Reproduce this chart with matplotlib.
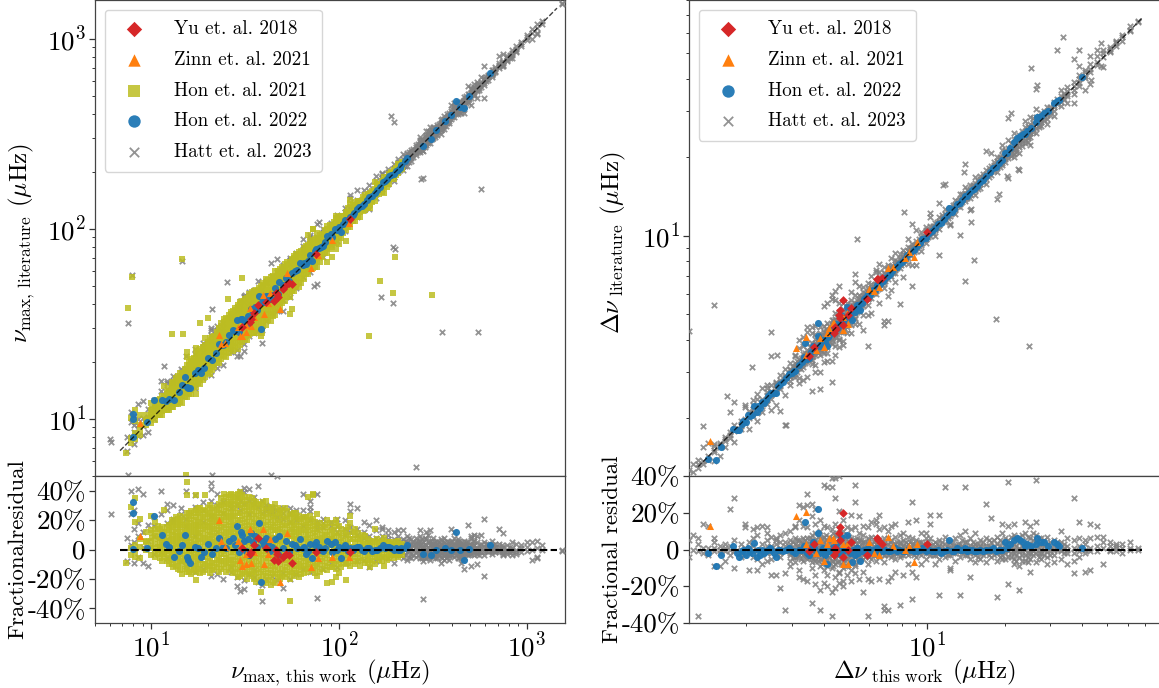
import matplotlib
matplotlib.use("Agg")
import matplotlib.pyplot as plt
from matplotlib.ticker import NullFormatter, FixedLocator, FixedFormatter

plt.rcParams['font.family'] = ['cmr10', 'Liberation Serif']
plt.rcParams['mathtext.fontset'] = 'cm'
plt.rcParams['axes.unicode_minus'] = False
plt.rcParams['axes.formatter.use_mathtext'] = True

# numax panel: (this work in uHz, [residuals in % at that value])
hon21_numax = [
    (7.3, [-9]), (7.8, [-4, 1, 29]), (8.2, [-5, -1, 3, 19, 35]), (8.7, [-6, 2, 7, 21]), (9.3, [0, 5, 12, 6]),
    (9.9, [-4, 2, 6, 13, 23]), (10.4, [-5, -1, 4, 9, 14, 19]), (11.1, [-6, 0, 3, 8, 14]), (11.7, [-5, -2, 3, 7, 12, 27]),
    (12.4, [-10, -6, -1, 4, 8, 13, 17]), (13.1, [-12, -7, -3, 1, 6, 10, 15, 19]), (13.8, [-13, -9, -4, 2, 5, 9, 14, 18, 21]),
    (14.6, [-17, -10, -6, -1, 3, 8, 12, 17, 20]), (15.4, [-15, -11, -7, -2, 2, 6, 11, 15, 19, 25, 37, 46]), (16.3, [-17, -13, -8, -4, 1, 5, 10, 14, 18, 23, 26]),
    (17.2, [-21, -15, -10, -5, 0, 4, 9, 13, 17, 22, 27, 37]), (18.2, [-16, -12, -7, -3, 2, 7, 11, 16, 20, 24, 28]), (19.4, [-14, -10, -5, -1, 4, 8, 13, 17, 22, 26, 37]),
    (20.5, [-16, -11, -6, -2, 3, 7, 12, 16, 21, 25, 30]), (21.6, [-13, -9, -4, 1, 5, 9, 14, 19, 23, 27, 22]), (23.0, [-15, -10, -6, 0, 4, 8, 13, 18, 22, 27, 31]),
    (24.3, [-12, -8, -3, 2, 6, 11, 15, 20, 24, 29, 33, 38]), (25.8, [-14, -9, -5, 1, 5, 10, 14, 19, 23, 28, 32, 37]), (27.2, [-16, -11, -7, -2, 3, 8, 12, 17, 22, 26, 31, 36]),
    (28.9, [-19, -13, -8, -3, 2, 6, 11, 15, 20, 25, 30, 34, 38]), (30.5, [-17, -12, -7, -2, 4, 8, 13, 18, 23, 28, 33, 37]), (32.3, [-20, -15, -10, -5, 0, 5, 10, 14, 19, 24, 29, 34]),
    (34.4, [-18, -14, -8, -3, 1, 6, 11, 16, 21, 26, 30, 35]), (36.1, [-22, -16, -11, -6, -1, 4, 9, 13, 18, 23, 28, 32]), (38.4, [-29, -21, -15, -10, -4, 1, 6, 11, 15, 20, 25, 30]),
    (40.7, [-23, -18, -13, -8, -3, 2, 7, 12, 17, 22, 27, 33]), (43.2, [-24, -19, -14, -9, -4, 1, 6, 10, 15, 20, 25, 29]), (45.6, [-23, -17, -12, -7, -2, 3, 8, 13, 18, 23, 31]),
    (48.5, [-20, -16, -10, -5, 0, 5, 9, 14, 19, 24, 27]), (51.2, [-19, -14, -9, -4, 1, 6, 11, 16, 21, 28]), (54.6, [-35, -20, -15, -10, -6, -1, 4, 9, 13, 18, 23]),
    (57.4, [-18, -13, -8, -3, 2, 7, 12, 17, 22, 25]), (61.0, [-19, -14, -10, -5, 0, 5, 10, 14, 19, 23]), (64.8, [-16, -11, -6, -1, 4, 8, 13, 18, 22]),
    (68.3, [-15, -10, -5, 0, 5, 10, 15, 20, 36]), (72.5, [-14, -9, -4, 1, 6, 11, 16, 21, 37, 38]), (76.6, [-18, -12, -8, -3, 2, 7, 12, 17, 24]),
    (81.4, [-13, -8, -3, 2, 6, 10, 15]), (86.7, [-23, -14, -9, -4, 1, 5, 10, 15, 20]), (91.2, [-22, -12, -7, -2, 3, 8, 13]),
    (96.8, [-19, -13, -8, -3, 1, 6, 11, 18, 20]), (102, [-12, -7, -2, 3, 8, 14]), (109, [-21, -10, -6, -1, 4, 9, 13]),
    (115, [-11, -6, -2, 2, 7, 18, 23]), (122, [-10, -5, 0, 5, 10, 14]), (130, [-11, -6, -1, 4, 8]),
    (138, [-9, -4, 0, 4, 9]), (146, [-12, -7, -3, 2, 6]), (155, [-10, -5, 0, 5, 14]),
    (164, [-7, -3, 1, 5]), (174, [-11, -5, 0, 4, 8]), (184, [-6, -2, 2, 5]),
    (195, [-6, -3, 1, 4]), (206, [-5, -1, 3, 6]), (216, [-4, -1, 2, 4]),
]
# second pass over the same cloud, between the columns above
hon21_numax_fill = [
    (10.1, [1, 8, 11]), (10.8, [-3, 2, 7, 12, 16]), (11.4, [-8, -3, 1, 5, 10, 15]), (12.1, [-8, -3, 2, 6, 11, 15]), (12.8, [-10, -5, 0, 3, 7, 12, 16, 20]),
    (13.5, [-11, -5, -1, 4, 8, 12, 17, 22]), (14.2, [-14, -8, -3, 1, 6, 10, 15, 19, 23]), (15.0, [-13, -8, -4, 1, 5, 9, 13, 17, 22]), (15.9, [-15, -10, -6, -1, 3, 8, 12, 16, 21, 25]),
    (16.8, [-14, -11, -6, -2, 3, 7, 12, 16, 20, 25]), (17.7, [-13, -8, -3, 2, 6, 11, 15, 19, 25, 28]), (18.8, [-15, -10, -5, 0, 5, 9, 14, 18, 22, 27]), (19.9, [-12, -8, -3, 1, 6, 10, 15, 19, 24, 28]),
    (21.0, [-14, -9, -4, 1, 5, 10, 14, 18, 23, 28]), (22.3, [-12, -7, -2, 2, 6, 11, 16, 20, 25, 29]), (23.6, [-13, -8, -3, 2, 6, 10, 15, 20, 25, 30, 35]), (25.0, [-15, -10, -6, -1, 3, 8, 12, 17, 22, 26, 31, 36]),
    (26.5, [-12, -7, -2, 3, 7, 12, 16, 21, 25, 30, 34, 38]), (28.0, [-15, -10, -5, 0, 4, 9, 14, 18, 23, 28, 33, 37]), (29.7, [-18, -14, -9, -5, 1, 5, 10, 15, 20, 25, 30, 35, 39]), (31.4, [-16, -11, -6, -1, 3, 7, 11, 16, 21, 26, 31, 36]),
    (33.3, [-17, -12, -7, -2, 3, 8, 12, 17, 22, 27, 31, 36]), (35.2, [-20, -15, -10, -5, 0, 5, 9, 14, 19, 24, 29, 33]), (37.3, [-19, -13, -8, -3, 2, 7, 12, 17, 21, 26, 31]), (39.5, [-22, -17, -12, -6, -1, 3, 8, 13, 18, 23, 28, 32]),
    (41.9, [-21, -16, -11, -6, -1, 4, 9, 14, 19, 24, 29]), (44.4, [-22, -16, -11, -6, -1, 4, 8, 13, 17, 22, 27]), (47.0, [-19, -14, -8, -3, 1, 6, 11, 15, 20, 25, 28]), (49.8, [-18, -13, -7, -2, 3, 7, 12, 17, 22, 26]),
    (52.9, [-17, -12, -7, -2, 3, 8, 12, 17, 22, 26]), (56.0, [-16, -11, -6, -1, 4, 9, 14, 19, 24]), (59.2, [-16, -11, -7, -2, 3, 8, 12, 16, 21, 25]), (62.8, [-17, -12, -8, -3, 2, 7, 12, 16, 21]),
    (66.5, [-13, -8, -3, 2, 7, 12, 17, 22]), (70.4, [-12, -7, -2, 3, 8, 13, 18, 23]), (74.5, [-16, -11, -6, -1, 4, 9, 14, 19]), (79.0, [-15, -10, -5, 0, 4, 8, 13, 18]),
    (84.0, [-11, -6, -1, 4, 8, 12, 17]), (89.0, [-12, -7, -2, 3, 7, 12, 18]), (94.0, [-10, -5, -1, 4, 9, 15]), (99.5, [-16, -10, -5, 0, 5, 10, 16]),
    (105, [-9, -4, 1, 6, 11]), (112, [-9, -4, 0, 5, 10, 15]), (119, [-8, -3, 2, 7, 12]), (126, [-8, -3, 2, 7, 11]),
    (134, [-7, -2, 2, 6, 10]), (142, [-9, -5, -1, 3, 7]), (150, [-8, -3, 2, 6]), (160, [-5, -1, 3, 7]),
    (169, [-8, -4, 2, 6]), (179, [-7, -3, 1, 5]), (190, [-4, 0, 3, 5]), (200, [-4, 0, 3, 5]), (211, [-3, 1, 4]),
]
hon21_numax_out_x = [7.9, 14.6, 7.5, 30.3, 25.5, 19.9, 18.1, 12.8, 14.8, 199, 165, 194, 145, 56, 38.7, 314, 15.2]
hon21_numax_out_y = [56, 69.7, 38.5, 55.3, 42.5, 33.8, 31.8, 27.9, 27.9, 71, 52.8, 46, 27.2, 37.7, 28.2, 45, 5.05]

hatt_numax = [
    (6.1, [24]), (7.4, [-8, 8]), (7.8, [24, 40, 3]), (8.1, [14, 5, -9, 27]), (8.5, [41, 18, 9, -5]), (9.0, [38, 12, -9, 2]), (9.6, [-11, 6, 17]),
    (10.3, [9, 16, -3, 22]), (11.3, [40, 12, -2, 24]), (12.1, [31, 18, 7, -6, 27]), (13.0, [30, 19, 21, -3]), (14.3, [24, 8, -8, 28]),
    (15.3, [40, 16, -11, 21]), (17.0, [37, 29, 9, -15]), (18.9, [32, 19, -13, 27]), (20.8, [45, 41, 33, -18, 23]), (22.3, [38, 30, 12, -17]),
    (24.1, [32, 25, -20, 7]), (26.5, [31, 28, -15, -12]), (28.4, [36, 30, -25, -19, 12]), (29.8, [-28, 40, 33, 27]), (31.3, [-27, 39, 42, 31, -21]),
    (33.0, [41, 24, -17, 33]), (35.0, [33, 36, -19, -14, 31]), (37.0, [43, 29, 18, -22]), (38.7, [-35, -24, 25, 33]), (41.0, [26, 28, -20, 30]),
    (44.0, [28, 26, 24, -18, 29]), (46.5, [50, 27, 22, -21]), (50.2, [-26, 25, 21, -16, 28]), (55.0, [24, 19, -20, 28, 25]), (59.0, [20, 27, -17, 23]),
    (64.0, [27, 22, 16, 38, -13]), (70.0, [29, 26, 20, -15, 33]), (76.4, [-33, 19, 17, 38, 14]), (82.0, [21, 18, 15, -13]), (90.0, [16, 19, -9, 8]),
    (98.0, [16, 12, -12, 21]), (107, [20, 14, -9, 10]), (115, [31, 15, 12, 26]), (125, [14, 10, -8, 28]), (135, [19, 8, 12, -7]),
    (145, [17, 9, -12, 5]), (158, [20, 13, 8, -8]), (170, [15, 9, 6, 14, -5]), (182, [13, 10, 7, -6]), (195, [-9, 12, 7, 3, -4]),
    (205, [13, 9, 6, 3, -3]), (218, [13, 7, 3, -2, -6]), (230, [9, 5, 2, -2, -7]), (243, [7, 4, 1, -3, -6]), (256, [8, 5, 2, -2, -5, 3]),
    (270, [9, 6, 3, 0, -3, -6, 13]), (280, [-34, 5, 2, -1, -4, -8]), (292, [12, 7, 3, 0, -3, -6]), (305, [13, 6, 3, -1, -4, -7]), (318, [8, 4, 1, -3, -5, 3]),
    (332, [6, 2, -1, -3, -6, 4]), (348, [7, 4, 1, -2, -5, -9, 3]), (362, [8, 5, 2, -1, -4, -7]), (378, [6, 3, 0, -3, -5, 2]), (395, [14, 5, 2, -1, -4]),
    (410, [12, 8, 4, 1, -2, -5]), (428, [5, 3, 0, -3, -6, 7]), (445, [5, 2, -1, -3, 3, -5, -9]), (465, [6, 3, 0, -2, -5, -13]), (485, [17, 5, 1, -2, -4]),
    (505, [8, 9, 3, 0, -3, -11]), (525, [10, 6, 3, 0, -2, -4]), (545, [9, 5, 1, -1, -3, -10]), (570, [10, 4, 1, -2]), (592, [21, 5, 2, -1, -18, -4]),
    (620, [3, 1, -2, 4]), (650, [6, 2, 0, -1, -3]), (680, [4, 2, 0, -2]), (715, [14, 2, 0, -2, 4]), (750, [11, 2, -1, -3, -4]),
    (790, [3, 0, -3, -2]), (830, [5, 1, -1, -4]), (880, [4, 0, -2, -3]), (930, [3, 1, -2]), (1000, [5, 2, -1]),
    (1070, [5, 0, -7]), (1130, [6, 1, -6, -5]), (1200, [3, 0]), (1540, [0, -1]),
]
hatt_numax_fill = [
    (212, [5, 1, -1, -4]), (224, [6, 3, 0, -4]), (236, [4, 1, -1, -5, 8]), (249, [5, 3, 0, -4]), (263, [6, 4, 1, -1, -4]),
    (275, [7, 3, 1, -2, -5, -6]), (286, [8, 4, 1, -2, -3, -6]), (298, [5, 2, -1, -2, -5, 10]), (311, [6, 4, 1, -2, -4]), (325, [5, 3, 0, -2, -4, -6]),
    (340, [5, 2, 0, -2, -4]), (355, [6, 3, 0, -3, -6]), (370, [4, 2, -1, -3, -6]), (386, [5, 3, 1, -2, -4, -7]), (402, [6, 3, 0, -2, -4]),
    (418, [5, 3, 1, -2, -4]), (436, [6, 4, 1, -1, -3, -6]), (455, [4, 2, 0, -2, -4, -7]), (475, [5, 3, 1, -1, -3]), (495, [4, 2, 0, -3]),
    (515, [6, 3, 1, -2]), (560, [3, 1, -2, -4]), (605, [4, 2, -1]), (665, [3, 1, -1]), (735, [3, 1, -2]), (810, [2, 0, -2]),
]
hatt_numax_out_x = [7.9, 14.6, 7.5, 194, 199, 167, 194, 25.2, 43.3, 73.5, 78, 11.6, 6.03, 190, 197, 274, 568, 355, 547, 258, 7.5, 20.9, 43.3, 31.4, 21]
hatt_numax_out_y = [57, 68, 31.8, 80, 78, 43.5, 40.5, 52.7, 66.3, 49.8, 109, 18.9, 7.8, 391, 363, 183, 162, 28.5, 28.5, 5.6, 5.05, 5.05, 5.05, 45, 38]

hon22_numax_x = [8.0, 8.0, 8.0, 9.5, 10.3, 11.4, 12.0, 12.4, 13.2, 14.0, 14.6, 15.0, 15.4, 15.6, 16.0, 17.0, 17.8, 18.4, 19.0, 20.0, 21.0, 22.0,
                 23.0, 24.0, 25.0, 26.0, 27.2, 28.0, 28.7, 29.3, 30.0, 30.4, 31.0, 31.8, 32.5, 33.0, 34.0, 34.8, 35.5, 36.5, 37.4, 38.2, 39.0, 39.8, 41.0,
                 42.0, 43.0, 44.0, 45.5, 47.0, 48.0, 50.0, 52.0, 54.0, 56.0, 58.0, 60.0, 62.0, 65.0, 67.0, 70.0, 72.0, 75.0, 78.0, 82.0, 86.0, 90.0, 95.0,
                 100, 102, 108, 114, 120, 128, 136, 145, 155, 165, 172, 180, 190, 205, 215, 230, 280, 310, 330, 365, 395, 418, 440, 465, 495, 640,
                 64, 68, 74, 80, 84, 92, 98, 105, 111, 118, 124, 132, 140, 150, 160, 176, 185, 195, 200, 210, 225]
hon22_numax_res = [32, 25, 0.5, 1, 22.5, 10, 4, 2, -5, -1, 3, 10, -5, -7, -9, 2, 1, -5, -2, 4, -3, 1,
                   8, 2, 1, 6, 8, 3, 16, -2, 12, 10, 6, -1, 7, -4, 11, 5, 9, 2, 18, -22, 6, 3, 8,
                   5, -1, 2, 7, -3, 9, 1, 6, -2, 4, 3, 1, 7, 2, -3, 4, -6, 5, 2, -1, 6, 4, 5,
                   2, -6, 3, 1, 1, 2, -1, 1, 0, 1, 3, 2, 1, 0, 1, 3, -3, -4, 0, 1, 0, 12, 0, -7, 0.5, 3,
                   1, -1, 3, 0, 1, -2, 0, 1, -1, 0, 2, 0, 1, -1, 0, 1, 2, 0, 1, 0, 1]

zinn_numax_x = [23, 8.7, 23.4, 24.7, 28.8, 33.7, 29.5, 30.5, 32, 33.8, 39.4, 39.8, 43, 48.6, 53, 70.5, 77, 92, 113, 32, 35, 30, 42]
zinn_numax_res = [20, 9.5, 6, 2, 6, 14, -7, -11, -10, -9, 14, -10, 7, -22, 11, -12, -6, -5, -5, -3, -2, 3, -3]

yu_numax_x = [37, 30.2, 34, 35.2, 41, 46, 45, 47.5, 52, 54, 56, 75, 115, 50.5, 46.5, 33.5]
yu_numax_res = [7.5, 1, -2, 3, 1, 0, -7, -8, -3, -4, -9, -2, -2, -5, -3, -3]

# delta nu panel
hatt_dnu = [
    (1.2, [5, -4]), (1.24, [8, 0]), (1.3, [-36, 3, -1, 6]), (1.36, [1, -2, 14]), (1.42, [-2, 1, 13, -3]), (1.5, [1, -1, 4, 6, -9]), (1.58, [-2, 0, 2, -9]),
    (1.65, [3, -1, -6, 1]), (1.73, [22, 2, 0, -3]), (1.8, [28, 5, -1, -10]), (1.9, [3, 0, -2, -4]), (1.97, [14, 12, 1, -3]), (2.05, [4, 1, -2, -11]),
    (2.12, [11, 6, 2, -1, -4]), (2.2, [12, 8, 0, -5, -11]), (2.3, [13, 3, 0, -3, -8]), (2.4, [9, 5, 2, -2, -6, 12]), (2.5, [2, 1, -2, -5, -14, 7]),
    (2.6, [-14, 5, 0, -3, 3, 6]), (2.7, [-21, 8, 4, 1, -2, -4]), (2.82, [9, 4, 2, -1, -13, -33]), (2.95, [10, 5, 1, -2, -6, -9]), (3.08, [12, 6, 3, 0, -4, -7, 13]),
    (3.2, [24, 16, 5, 2, -1, -3, -15, -11]), (3.33, [13, 6, 3, 0, -3, -6, -16, 23]), (3.45, [30, 24, 12, 6, 3, 1, -2, -5, -17]), (3.58, [25, 18, 8, 4, 1, -1, -4, -7, -29, -10]),
    (3.7, [22, 14, 9, 5, 2, 0, -3, -6, -19, -14]), (3.85, [16, 10, 6, 3, 1, -2, -5, -9, -22, -33]), (4.0, [35, 13, 7, 4, 1, -1, -4, -7, -11, -18]), (4.12, [34, 12, 5, 2, 0, -3, -5, -9, -20, -14]),
    (4.28, [39, 34, 11, 6, 3, 1, -2, -6, -10, -23, -36]), (4.43, [39, 28, 14, 8, 4, 1, -2, -5, -8, -21, -15]), (4.58, [40, 21, 11, 6, 3, 0, -3, -6, -12, -18, -13]), (4.75, [16, 10, 5, 2, -1, -4, -7, -10, -17, -20]),
    (4.92, [12, 8, 4, 1, -2, -5, -9, -14]), (5.1, [19, 11, 6, 3, 0, -3, -6, -11, -17]), (5.28, [35, 26, 12, 5, 2, -1, -4, -8, -13, -9]), (5.45, [18, 9, 5, 2, -1, -3, -6, -16]),
    (5.65, [13, 8, 4, 1, -2, -5, -12, -23]), (5.9, [12, 6, 3, 0, -3, -36, -8, -16]), (6.1, [15, 7, 3, 1, -2, -5, -17]), (6.35, [16, 14, 6, 3, 0, -3, -6]),
    (6.55, [19, 11, 5, 2, -1, -4, -16]), (6.8, [12, 6, 2, -1, -3, -7, -31, -33]), (7.05, [10, 6, 3, 0, -3, -17, -33]), (7.3, [13, 5, 2, -1, -4, -15]),
    (7.55, [14, 7, 3, 0, -2, -5, -12]), (7.85, [8, 4, 1, -1, -4, -30]), (8.1, [9, 5, 2, -1, -3, -14]), (8.45, [15, 7, 3, 0, -3, -8]),
    (8.8, [26, 6, 3, 0, -2, -27, -12]), (9.1, [16, 5, 2, -1, -4, -15]), (9.5, [9, 4, 1, -1, -3, -8]), (9.9, [6, 9, 3, 0, -2, -5]),
    (10.3, [19, 14, 6, 2, -1, -3]), (10.8, [4, 1, -1, -3, -8]), (11.2, [19, 5, 2, 0, -2, -5, -25]), (11.8, [34, 7, 3, 0, -2, -4]),
    (12.3, [4, 1, -1, -3, -11, -10]), (12.9, [6, 2, 0, -2, -6]), (13.4, [8, 3, 1, -1, -4, -25]), (14.0, [34, 10, 4, 1, -1, -3]),
    (14.7, [6, 2, 0, -2, -15, -5]), (15.4, [9, 3, 1, -1, -3, -7]), (16.1, [5, 2, 0, -2, -5]), (16.9, [25, 6, 2, 0, -2, -7]),
    (17.8, [17, 4, 1, -1, -4]), (18.7, [7, 3, 0, -2, -6, -26]), (19.6, [14, 9, 4, 1, -1, -3, -5]), (20.6, [37, 13, 5, 2, -1, -4, -19]),
    (21.7, [14, 8, 3, 0, -2, -5, -8]), (22.8, [7, 4, 1, -1, -4, -9, -22]), (24.0, [15, 9, 2, 0, -3, -6]), (25.2, [13, 6, 3, 0, -2, -5, -12]),
    (26.5, [15, 8, 4, 1, -2, -7, 38]), (27.8, [6, 3, 0, -2, -5]), (29.2, [7, 3, 1, -1, -4, -8]), (31.0, [5, 2, 0, -3, -7]),
    (33.0, [10, 4, 1, -1, -5]), (35.0, [6, 2, 0, -2, -8]), (37.0, [28, 5, 1, -2, -13, -6]), (39.0, [15, 6, 2, -1, -4]),
    (41.0, [3, 0, -2, -12, 5]), (43.0, [14, 6, 1, -1, -11]), (45.5, [13, 7, 2, -1]), (48.0, [-8, 4, 7, 1]),
    (51.0, [4, 2, 0, -1]), (54.0, [3, 1, -1, 2]), (57.0, [3, 1, -2]), (61.0, [4, 1, 0]), (66.0, [1, 0]),
]
# second pass along the dense part of the band
hatt_dnu_fill = [
    (2.96, [3, 0, -3]), (3.02, [4, 1, -2, -4]), (3.14, [5, 2, -1, -4]), (3.26, [4, 1, -2, -5]), (3.39, [5, 3, 0, -2, -4]), (3.52, [6, 3, 1, -2, -4]), (3.64, [5, 2, 0, -3, -5]),
    (3.78, [7, 4, 1, -2, -4, -6]), (3.92, [6, 3, 0, -2, -5, -8]), (4.06, [8, 5, 2, -1, -3, -6]), (4.2, [7, 4, 1, -1, -4, -7]), (4.35, [9, 5, 2, 0, -3, -6, -9]), (4.5, [8, 4, 2, -1, -3, -7]),
    (4.66, [7, 4, 1, -2, -5, -8]), (4.83, [6, 3, 0, -3, -6, -9]), (5.0, [7, 4, 2, -1, -4, -7]), (5.18, [5, 3, 1, -2, -5]), (5.36, [6, 3, 0, -3, -5]), (5.55, [5, 3, 1, -1, -4]),
    (5.78, [4, 2, 0, -2, -4]), (6.0, [5, 2, 0, -2, -4]), (6.22, [4, 2, -1, -3]), (6.45, [4, 1, -1, -3]), (6.68, [4, 2, 0, -2]), (6.92, [4, 2, -1, -3]),
    (7.18, [4, 1, -1, -2]), (7.42, [3, 1, -2, -3]), (7.7, [4, 2, 0, -2]), (7.98, [3, 1, -1, -3]), (8.28, [4, 2, 0, -2]), (8.62, [4, 1, -1, -2]),
    (8.95, [3, 1, -1, -3]), (9.3, [4, 2, 0, -2]), (9.7, [3, 1, -1]), (10.1, [4, 2, 0, -2]), (10.55, [3, 1, -1, -3]), (11.0, [3, 1, -2]),
    (11.5, [4, 2, 0, -2]), (12.05, [3, 1, -1, -3]), (12.6, [4, 2, 0, -2]), (13.15, [3, 1, -1]), (13.7, [5, 2, 0, -2]), (14.35, [4, 1, -1, -3]),
    (15.05, [4, 2, 0, -2]), (15.75, [3, 1, -1, -4]), (16.5, [4, 2, 0, -3]), (17.35, [5, 2, -1, -3]), (18.25, [5, 2, 0, -3]), (19.15, [5, 2, 0, -2, -4]),
    (20.1, [6, 3, 0, -2, -5]), (21.1, [7, 3, 1, -2, -4]), (22.2, [6, 2, 0, -3, -6]), (23.4, [8, 5, 2, -1, -3, -6]), (24.6, [7, 3, 1, -2, -4, -7]), (25.8, [9, 5, 2, -1, -3]),
    (27.1, [6, 3, 1, -2, -4]), (28.5, [5, 2, 0, -3]), (30.0, [4, 1, -1, -3]), (32.0, [4, 2, 0]), (34.0, [3, 1, -2]),
]
hatt_dnu_out_x = [1.5, 1.2, 2.5, 2.5, 2.63, 2.11, 1.68, 1.36, 2.85, 5.37, 8.15, 15.3, 14.1, 18.5, 24.8, 33.8, 32, 39, 25.4, 26.8, 21.1, 13.9, 11.6, 19, 22.6, 20.5, 14.8, 14.8, 47.4, 43.4, 47.4]
hatt_dnu_out_y = [5.43, 4.3, 4.28, 3.45, 3.5, 3.13, 2.43, 1.86, 1.89, 9.7, 12.3, 8.1, 6.7, 4.8, 3.77, 57.8, 51.5, 51.5, 43.9, 37.8, 29.4, 17.5, 15.7, 14.4, 18, 16.9, 11.3, 12.7, 44.7, 39.5, 54.8]

hon22_dnu_x = [1.42, 1.52, 1.6, 1.78, 1.84, 1.88, 1.95, 2.0, 2.06, 2.15, 2.2, 2.26, 2.3, 2.34, 2.42, 2.5, 2.6, 2.7, 2.85, 3.0, 3.1, 3.2, 3.35, 3.38,
               3.5, 3.55, 3.62, 3.7, 3.78, 3.8, 3.86, 3.95, 4.05, 4.12, 4.2, 4.28, 4.35, 4.45, 4.55, 4.65, 4.72, 4.8, 4.92, 5.05, 5.12, 5.25, 5.35, 5.5,
               5.7, 5.9, 6.0, 6.2, 6.4, 6.6, 6.9, 7.2, 7.5, 7.8, 8.2, 8.6, 9.2, 9.6, 10.2, 10.8, 11.4, 12.0, 12.2, 12.8, 13.4, 14.0, 14.6, 15.2, 16.0, 17.0,
               18.0, 19.0, 20.0, 21.0, 21.8, 22.3, 23.0, 23.6, 24.5, 25.3, 26.4, 26.8, 27.6, 28.4, 31.0, 32.0, 32.5, 40.0,
               1.92, 2.03, 2.1, 2.22, 2.38, 2.46, 2.55, 2.65, 2.77, 2.92, 3.05, 3.28, 3.45, 3.67, 3.9, 4.0, 4.15, 4.38, 4.5, 4.6, 4.85, 5.0, 5.2, 5.42,
               5.6, 5.8, 6.1, 6.3, 6.5, 6.75, 7.05, 7.35, 7.65, 8.0, 8.4, 8.9, 9.4, 9.9, 10.5, 11.1, 11.7, 12.5, 13.1, 13.7, 14.3, 14.9, 15.6, 16.5, 17.5,
               18.5, 19.5, 20.5, 24.0, 29.5]
hon22_dnu_res = [-2, -9, -3, 2, -2, -4, 0, -3, -1, 3.5, -4, -3, 0, -2, 0, 0, -4, 0, 0, -1, -2, 0, 2, 15,
                 -3, 1, 4, 0, 22, 9, -2, 1, -3, -8, -1, 1, 0, 3, -2, 7, -1, 0, 8, -2, -7, -3, 1, -6,
                 0, 1, -2, 0, 1, -1, 0, -1, 1, 0, -1, 0, -1, 1, 0, -1, -2, 0, 5, -1, 0, 1, 0, -1, 0, 0,
                 1, 0, 4, 3, 5, 6, 5, 4, 3, 2, 3, 6, 4, 4, 4, 3, 2, 1,
                 -1, 1, -2, 0, -1, 1, -2, 0, -1, 1, -1, 0, -2, 1, -1, 0, -1, 1, -2, 0, 1, -1, 0, -2,
                 -1, 0, -1, -2, 0, -1, -1, 0, -1, -1, 0, -1, 0, -1, -1, 0, -1, -1, 1, 0, -1, 0, -1, -1, 0,
                 -1, 0, 1, 2, 2]

zinn_dnu_x = [1.45, 3.12, 3.4, 3.4, 3.87, 4.17, 4.39, 4.1, 4.75, 4.92, 4.0, 4.75, 4.97, 6.0, 6.25, 6.53, 7.05, 7.43, 8.24, 8.5, 9.2, 8.93, 3.73, 4.35]
zinn_dnu_res = [13, 18.5, 20.5, 3, 5, 6, 5, 3, 3, 3, -6, -8, -8, 4, -2, -3, 7, 2, 0, 2, 3, -7, -2, 6]

yu_dnu_x = [4.72, 4.63, 4.57, 4.6, 5.07, 3.65, 3.5, 4.41, 4.45, 4.38, 4.72, 5.88, 6.42, 6.48, 6.7, 10, 4.95]
yu_dnu_res = [20, 12, 9, 5, 4, 3, -1, 1, -1, -3, -4, -3, 6, 5, 3, 3, 0]

numax_lim = (5, 1600)
dnu_lim = (1.2, 80)
res_ticks = [-40, -20, 0, 20, 40]
res_labels = ['-40%', '-20%', '0', '20%', '40%']


def expand(*tables):
    xs, rs = [], []
    for rows in tables:
        for x, vals in rows:
            for v in vals:
                xs.append(x)
                rs.append(v)
    return xs, rs


def lit(xs, rs):
    return [x * (1 + r / 100) for x, r in zip(xs, rs)]


def add_series(top, bot, xs, rs, extra_x, extra_y, **kw):
    top.scatter(list(xs) + extra_x, lit(xs, rs) + extra_y, **kw)
    kw.pop('label', None)
    bot.scatter(xs, [r / 100 for r in rs], **kw)


def style(top, bot, lim, ylim_res, line_end):
    for ax in (top, bot):
        ax.set_xscale('log')
        ax.set_xlim(lim)
        ax.xaxis.set_minor_formatter(NullFormatter())
        ax.tick_params(which='major', length=4, width=0.9, pad=2.5, labelsize=19.5, color='#333333')
        ax.tick_params(which='minor', length=2.5, width=0.7, color='#333333')
        for s in ax.spines.values():
            s.set_linewidth(0.9)
            s.set_color('#444444')
    top.set_yscale('log')
    top.set_ylim(lim)
    top.yaxis.set_minor_formatter(NullFormatter())
    top.tick_params(which='both', bottom=False, labelbottom=False)
    top.plot(line_end, line_end, 'k--', lw=1.0, alpha=0.75, zorder=20)
    bot.plot(line_end, [0, 0], 'k--', lw=1.5, zorder=20)
    bot.set_ylim(ylim_res)
    bot.yaxis.set_major_locator(FixedLocator([p / 100 for p in res_ticks]))
    bot.yaxis.set_major_formatter(FixedFormatter(res_labels))
    top.legend(loc='upper left', fontsize=13.7, labelspacing=0.68, borderpad=0.55, handletextpad=1.1, markerscale=1.75)


W, H = 1159, 688
fig = plt.figure(figsize=(W / 100, H / 100), dpi=100)
ax1 = fig.add_axes([95 / W, (H - 476) / H, 470 / W, 476 / H])
ax2 = fig.add_axes([95 / W, (H - 623) / H, 470 / W, 147 / H])
ax3 = fig.add_axes([689 / W, (H - 476) / H, 471 / W, 476 / H])
ax4 = fig.add_axes([689 / W, (H - 623) / H, 471 / W, 147 / H])

red = dict(marker='D', s=20, color='#d62728', alpha=1, linewidths=0, zorder=7, label='Yu et. al. 2018')
ora = dict(marker='^', s=26, color='#ff7f0e', alpha=1, linewidths=0, zorder=6, label='Zinn et. al. 2021')
oli = dict(marker='s', s=22, color='#bcbd22', alpha=0.85, linewidths=0, zorder=4, label='Hon et. al. 2021')
blu = dict(marker='o', s=26, color='#1f77b4', alpha=0.95, linewidths=0, zorder=5, label='Hon et. al. 2022')
gry = dict(marker='x', s=15, color='grey', alpha=0.85, linewidths=1.3, zorder=3, label='Hatt et. al. 2023')

add_series(ax1, ax2, yu_numax_x, yu_numax_res, [], [], **red)
add_series(ax1, ax2, zinn_numax_x, zinn_numax_res, [], [], **ora)
xs, rs = expand(hon21_numax, hon21_numax_fill)
add_series(ax1, ax2, xs, rs, hon21_numax_out_x, hon21_numax_out_y, **oli)
add_series(ax1, ax2, hon22_numax_x, hon22_numax_res, [], [], **blu)
xs, rs = expand(hatt_numax, hatt_numax_fill)
add_series(ax1, ax2, xs, rs, hatt_numax_out_x, hatt_numax_out_y, **gry)

add_series(ax3, ax4, yu_dnu_x, yu_dnu_res, [], [], **red)
add_series(ax3, ax4, zinn_dnu_x, zinn_dnu_res, [], [], **ora)
add_series(ax3, ax4, hon22_dnu_x, hon22_dnu_res, [], [], **blu)
xs, rs = expand(hatt_dnu, hatt_dnu_fill)
add_series(ax3, ax4, xs, rs, hatt_dnu_out_x, hatt_dnu_out_y, **gry)

style(ax1, ax2, numax_lim, (-0.5, 0.5), [6.8, 1450])
style(ax3, ax4, dnu_lim, (-0.4, 0.4), [1.3, 68])

ax1.set_ylabel(r'$\nu_{\mathrm{max,\,literature}}$ ($\mu$Hz)', fontsize=18)
ax1.yaxis.set_label_coords(-0.123, 0.49)
ax2.set_ylabel('Fractionalresidual', fontsize=16.5)
ax2.yaxis.set_label_coords(-0.145, 0.5)
ax2.set_xlabel(r'$\nu_{\mathrm{max,\,this\ work}}$ ($\mu$Hz)', fontsize=18)
ax2.xaxis.set_label_coords(0.5, -0.235)
ax3.set_ylabel(r'$\Delta\nu_{\ \mathrm{literature}}$ ($\mu$Hz)', fontsize=18)
ax3.yaxis.set_label_coords(-0.13, 0.49)
ax4.set_ylabel('Fractional residual', fontsize=16.5)
ax4.yaxis.set_label_coords(-0.142, 0.5)
ax4.set_xlabel(r'$\Delta\nu_{\ \mathrm{this\ work}}$ ($\mu$Hz)', fontsize=18)
ax4.xaxis.set_label_coords(0.5, -0.235)

fig.savefig('out.png', dpi=100)
